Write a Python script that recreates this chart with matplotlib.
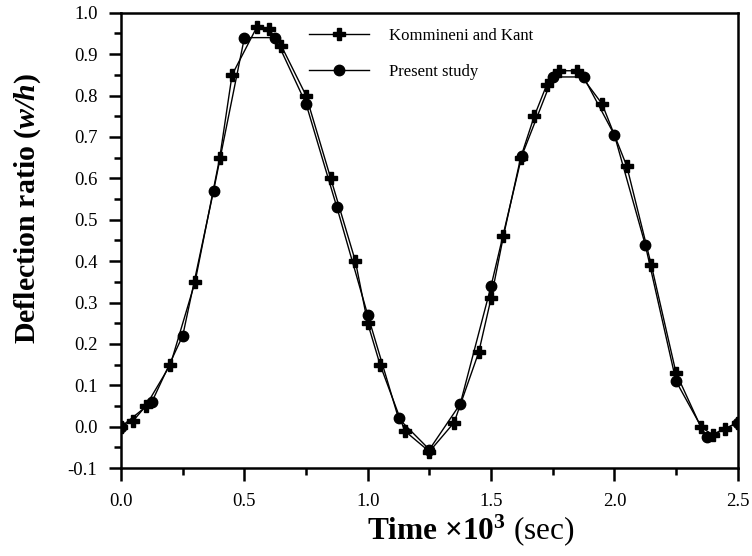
import matplotlib
matplotlib.use("Agg")
import matplotlib.pyplot as plt
from matplotlib.ticker import MultipleLocator

plt.rcParams['font.family'] = ['Liberation Serif', 'DejaVu Serif']
plt.rcParams['mathtext.fontset'] = 'custom'
plt.rcParams['mathtext.rm'] = 'Liberation Serif'
plt.rcParams['mathtext.bf'] = 'Liberation Serif:bold'
plt.rcParams['mathtext.it'] = 'Liberation Serif:italic'
plt.rcParams['mathtext.bfit'] = 'Liberation Serif:italic:bold'

# Kommineni and Kant (plus markers)
kk_time = [0.0, 0.05, 0.1, 0.2, 0.3, 0.4, 0.45, 0.55, 0.6, 0.65, 0.75, 0.85,
           0.95, 1.0, 1.05, 1.15, 1.25, 1.35, 1.45, 1.5, 1.55, 1.62, 1.675,
           1.725, 1.775, 1.85, 1.95, 2.05, 2.15, 2.25, 2.35, 2.4, 2.45, 2.5]
kk_defl = [0.0, 0.015, 0.05, 0.15, 0.35, 0.65, 0.85, 0.965, 0.96, 0.92, 0.80, 0.60,
           0.40, 0.25, 0.15, -0.01, -0.06, 0.01, 0.18, 0.31, 0.46, 0.65, 0.75,
           0.825, 0.86, 0.86, 0.78, 0.63, 0.39, 0.13, 0.0, -0.02, -0.005, 0.01]

# Present study (circle markers)
ps_time = [0.0, 0.125, 0.25, 0.375, 0.5, 0.625, 0.75, 0.875, 1.0, 1.125, 1.25,
           1.375, 1.5, 1.625, 1.75, 1.875, 2.0, 2.125, 2.25, 2.375, 2.5]
ps_defl = [0.0, 0.06, 0.22, 0.57, 0.94, 0.94, 0.78, 0.53, 0.27, 0.02, -0.055,
           0.055, 0.34, 0.655, 0.845, 0.845, 0.705, 0.44, 0.11, -0.025, 0.01]

fig = plt.figure(figsize=(7.52, 5.56), dpi=100)
ax = fig.add_axes([0.161, 0.158, 0.82, 0.819])

ax.plot(kk_time, kk_defl, color='black', lw=1, marker='P', markersize=8,
        label='Kommineni and Kant')
ax.plot(ps_time, ps_defl, color='black', lw=1, marker='o', markersize=7.5,
        label='Present study')

ax.set_xlim(0, 2.5)
ax.set_ylim(-0.1, 1.0)
ax.xaxis.set_major_locator(MultipleLocator(0.5))
ax.xaxis.set_minor_locator(MultipleLocator(0.25))
ax.yaxis.set_major_locator(MultipleLocator(0.1))
ax.yaxis.set_minor_locator(MultipleLocator(0.05))
ax.xaxis.set_major_formatter(plt.FuncFormatter(lambda v, p: f"{v:.1f}"))
ax.yaxis.set_major_formatter(plt.FuncFormatter(lambda v, p: f"{v:.1f}"))

for s in ax.spines.values():
    s.set_linewidth(1.8)
ax.tick_params(which='major', direction='out', length=9, width=1.8, labelsize=13.5, pad=9)
ax.tick_params(which='minor', direction='out', length=5, width=1.8)
ax.tick_params(axis='y', which='major', pad=8)

ax.set_xlabel(r"$\mathbf{Time}$ $\mathbf{×10^{3}}$ (sec)", fontsize=22.5)
ax.xaxis.set_label_coords(0.567, -0.097)
ax.set_ylabel(r"Deflection ratio ($\mathbfit{w/h}$)", fontsize=21.5,
              fontweight='bold')
ax.yaxis.set_label_coords(-0.127, 0.571)

ax.legend(loc='upper left', bbox_to_anchor=(0.28, 1.0), frameon=False,
          fontsize=12, numpoints=1, handlelength=3.6, handletextpad=1.2,
          labelspacing=1.2)

fig.savefig("out.png", dpi=100)
